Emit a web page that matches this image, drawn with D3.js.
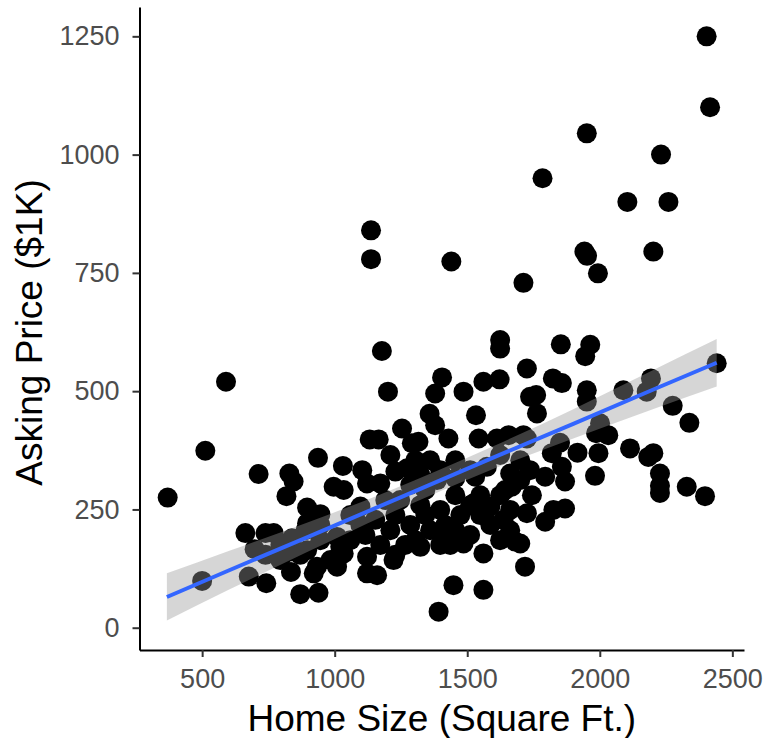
<!DOCTYPE html>
<html>
<head>
<meta charset="utf-8">
<script src="https://cdn.jsdelivr.net/npm/d3@7"></script>
<style>
  html, body { margin: 0; padding: 0; background: #fff; }
  svg { display: block; font-family: "Liberation Sans", Arial, Helvetica, sans-serif; }
</style>
</head>
<body>
<div id="chart"></div>
<script>
// home size (sq ft) and asking price ($1K)
var homeSize = [
  2403, 2416, 1951, 2231, 1784, 2104, 2259, 1137, 1137, 1440,
  1712, 1942, 1952, 1993, 2202, 1178, 590, 1624, 1624, 1725,
  1201, 1405, 1379, 1486, 1561, 1622, 1358, 1533, 1379, 1254,
  1737, 1853, 1964, 1945, 1823, 1857, 1760, 1763, 1951, 1951,
  2089, 2193, 2177, 2441, 2275, 2338, 2001, 1986, 2032, 1725,
  1850, 1819, 1916, 1995, 2114, 2183, 2202, 2227, 2227, 2227,
  2328, 2397, 1982, 1869, 1737, 1794, 1857, 1744, 1825, 1869,
  1794, 1725, 1700, 1718,
  1132, 1166, 1291, 1316, 1429, 1543, 1612, 1656, 1712,
  1031, 996, 1034, 1122, 1172, 1229, 1273, 1360, 1386, 1530, 1574, 1662, 1668,
  1097, 1524, 1587, 1637, 1681, 1561, 1486, 1398, 1323, 1222, 1122, 1034, 1009, 1122, 1160, 1448, 1561, 1392,
  1247, 1323, 1398, 1474, 1285, 1360, 1455, 1210, 1229, 1153, 1342, 1455, 1549, 1624, 1511, 1455, 1304, 1624,
  1700, 1662, 1587, 1511, 1398, 1266, 1172, 1097, 1059, 1455, 1285, 1009,
  512, 370, 713, 829, 845, 818, 937, 896, 946, 663, 739, 770, 698, 839, 833, 500, 676, 742, 835, 870, 939, 921,
  946, 1021, 896, 933, 984, 795, 896,
  1191, 1417, 1342, 1511, 1549, 1304, 1436, 1229, 1624, 1662, 1059, 1116, 946, 890, 870, 795, 739,
  1398, 1323, 1210, 1104, 1700, 1643
];
var askingPrice = [
  1250, 1100, 1045, 1000, 950, 900, 900, 840, 779, 774,
  729, 795, 786, 749, 795, 585, 520, 608, 590, 548,
  499, 529, 495, 499, 520, 525, 452, 449, 428, 421,
  488, 599, 598, 574, 527, 517, 492, 453, 502, 478,
  502, 527, 499, 559, 469, 433, 432, 411, 407, 400,
  391, 369, 370, 369, 379, 361, 369, 326, 285, 300,
  298, 278, 321, 309, 333, 319, 340, 280, 249, 252,
  224, 242, 178, 129,
  398, 398, 390, 393, 400, 400, 400, 407, 407,
  342, 298, 291, 305, 305, 330, 337, 354, 312, 319, 340, 326, 298,
  256, 263, 256, 228, 182, 157, 178, 200, 171, 143, 150, 157, 129, 115, 111, 90, 80, 34,
  270, 259, 249, 238, 217, 206, 206, 206, 238, 228, 291, 280, 280, 280, 333, 354, 354, 365,
  354, 249, 217, 196, 175, 175, 175, 217, 238, 316, 302, 192,
  374, 275, 325, 326, 309, 278, 359, 254, 240, 200, 200, 200, 166, 189, 161, 99, 108, 94, 118, 71, 74, 115,
  185, 171, 164, 129, 143, 175, 221,
  270, 217, 238, 259, 238, 185, 175, 154, 185, 206, 185, 196, 217, 206, 154, 143, 154,
  333, 323, 365, 333, 312, 291
];

var smoothX     = [367, 600, 900, 1200, 1400, 1600, 1900, 2200, 2441];
var smoothFit   = [65, 121, 192, 264, 312, 360, 431, 503, 560];
var smoothLower = [15, 80, 161, 240, 289, 336, 400, 462, 510];
var smoothUpper = [115, 162, 223, 288, 335, 384, 462, 544, 610];

var xTicks = [500, 1000, 1500, 2000, 2500];
var yTicks = [0, 250, 500, 750, 1000, 1250];
var xDomain = [263.7, 2544];
var yDomain = [-47.1, 1312];

var width = 769,
    height = 738;
var panel = { left: 139.5, right: 744, top: 7, bottom: 650 };

var svg = d3.select("#chart")
    .append("svg")
    .attr("width", width)
    .attr("height", height);

var x = d3.scaleLinear().domain(xDomain).range([panel.left, panel.right]);
var y = d3.scaleLinear().domain(yDomain).range([panel.bottom, panel.top]);

var points = homeSize.map(function (d, i) {
    return { size: d, price: askingPrice[i] };
});
var band = smoothX.map(function (d, i) {
    return { x: d, fit: smoothFit[i], lo: smoothLower[i], hi: smoothUpper[i] };
});

/* ------- POINTS -------*/
svg.append("g")
    .attr("class", "points")
    .selectAll("circle")
    .data(points)
    .enter()
    .append("circle")
    .attr("cx", function (d) { return x(d.size); })
    .attr("cy", function (d) { return y(d.price); })
    .attr("r", 10)
    .attr("fill", "#000");

/* ------- SMOOTH -------*/
var area = d3.area()
    .curve(d3.curveMonotoneX)
    .x(function (d) { return x(d.x); })
    .y0(function (d) { return y(d.lo); })
    .y1(function (d) { return y(d.hi); });

svg.append("path")
    .datum(band)
    .attr("d", area)
    .attr("fill", "#999999")
    .attr("fill-opacity", 0.4);

var line = d3.line()
    .x(function (d) { return x(d.x); })
    .y(function (d) { return y(d.fit); });

svg.append("path")
    .datum(band)
    .attr("d", line)
    .attr("fill", "none")
    .attr("stroke", "#3366FF")
    .attr("stroke-width", 4);

/* ------- AXES -------*/
var xAxis = svg.append("g")
    .attr("transform", "translate(0," + panel.bottom + ")")
    .call(d3.axisBottom(x).tickValues(xTicks).tickFormat(d3.format("d"))
        .tickSize(7).tickSizeOuter(0).tickPadding(12));

var yAxis = svg.append("g")
    .attr("transform", "translate(" + panel.left + ",0)")
    .call(d3.axisLeft(y).tickValues(yTicks).tickFormat(d3.format("d"))
        .tickSize(7).tickSizeOuter(0).tickPadding(13));

[xAxis, yAxis].forEach(function (g) {
    g.select(".domain").attr("stroke", "#000").attr("stroke-width", 2);
    g.selectAll(".tick line").attr("stroke", "#333333").attr("stroke-width", 2);
    g.selectAll(".tick text")
        .attr("fill", "#4D4D4D")
        .style("font-size", "27px")
        .style("font-family", "'Liberation Sans', Arial, sans-serif");
});

svg.append("text")
    .attr("x", (panel.left + panel.right) / 2)
    .attr("y", 731)
    .attr("text-anchor", "middle")
    .style("font-size", "37px")
    .attr("fill", "#000")
    .text("Home Size (Square Ft.)");

svg.append("text")
    .attr("transform", "translate(42," + ((panel.top + panel.bottom) / 2 + 4) + ") rotate(-90)")
    .attr("text-anchor", "middle")
    .style("font-size", "37px")
    .attr("fill", "#000")
    .text("Asking Price ($1K)");
</script>
</body>
</html>
